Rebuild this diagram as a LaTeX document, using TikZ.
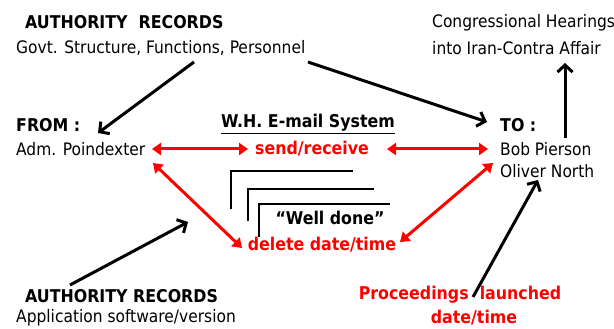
\documentclass[tikz,border=0pt]{standalone}
\usepackage{fontspec}
\setmainfont{DejaVu Sans Condensed}
\usetikzlibrary{arrows.meta}
\begin{document}
\begin{tikzpicture}[x=1pt,y=-1pt,
  txt/.style={inner sep=0pt,font=\fontsize{17.2}{19}\selectfont},
  btxt/.style={txt,font=\fontsize{17.6}{19}\selectfont\bfseries},
  rtxt/.style={btxt,text=red},
  blk/.style={line width=3pt,-{Straight Barb[length=7pt,width=15pt]}},
  redarr/.style={line width=3pt,red,{Triangle[length=9pt,width=12pt]}-{Triangle[length=9pt,width=12pt]}},
  brk/.style={line width=2.2pt}]
\useasboundingbox (0,0) rectangle (614,329);
\fill[white] (0,0) rectangle (614,329);
% texts
\node[btxt,anchor=west] (auth1) at (25,22) {AUTHORITY\ \ RECORDS};
\node[txt,anchor=west] (govt) at (16,48) {Govt. Structure, Functions, Personnel};
\node[btxt,anchor=west] (from) at (16,125) {FROM :};
\node[txt,anchor=west] (adm) at (16,149) {Adm. Poindexter};
\node[btxt] (wh) at (308,124) {\underline{W.H. E-mail System}};
\node[rtxt] (send) at (312,149) {send/receive};
\node[btxt] (well) at (330,218) {“Well done”};
\node[rtxt] (delete) at (322,245) {delete date/time};
\node[btxt,anchor=west] (to) at (500,125) {TO :};
\node[txt,anchor=west] (bob) at (500,149) {Bob Pierson};
\node[txt,anchor=west] (oliver) at (500,171) {Oliver North};
\node[txt,anchor=west] (cong) at (432,23) {Congressional Hearings};
\node[txt,anchor=west] (iran) at (432,48) {into Iran-Contra Affair};
\node[btxt,anchor=west] (auth2) at (25,296) {AUTHORITY RECORDS};
\node[txt,anchor=west] (app) at (16,318) {Application software/version};
\node[rtxt] (proc) at (460,295) {Proceedings\ \ launched};
\node[rtxt] (date) at (474,318) {date/time};
% coordinates
\coordinate (b1s) at (194,62);
\coordinate (b1e) at (98,133);
\coordinate (b2s) at (308,62);
\coordinate (b2e) at (487,122);
\coordinate (b3s) at (565,138);
\coordinate (b3e) at (565,63);
\coordinate (b4s) at (70,285);
\coordinate (b4e) at (188,222);
\coordinate (b5s) at (473,297);
\coordinate (b5e) at (538,180);
\coordinate (r1s) at (152,149);
\coordinate (r1e) at (248,149);
\coordinate (r2s) at (387,149);
\coordinate (r2e) at (488,149);
\coordinate (r3s) at (153,163);
\coordinate (r3e) at (242,248);
\coordinate (r4s) at (400,242);
\coordinate (r4e) at (493,163);
% black arrows
\draw[blk] (b1s) -- (b1e);
\draw[blk] (b2s) -- (b2e);
\draw[blk] (b3s) -- (b3e);
\draw[blk] (b4s) -- (b4e);
\draw[blk] (b5s) -- (b5e);
% red arrows
\draw[redarr] (r1s) -- (r1e);
\draw[redarr] (r2s) -- (r2e);
\draw[redarr] (r3s) -- (r3e);
\draw[redarr] (r4s) -- (r4e);
% brackets
\draw[brk] (231,209) -- (231,171) -- (353,171);
\draw[brk] (248,221) -- (248,189) -- (374,189);
\draw[brk] (259,237) -- (259,204) -- (390,204);
\end{tikzpicture}
\end{document}
